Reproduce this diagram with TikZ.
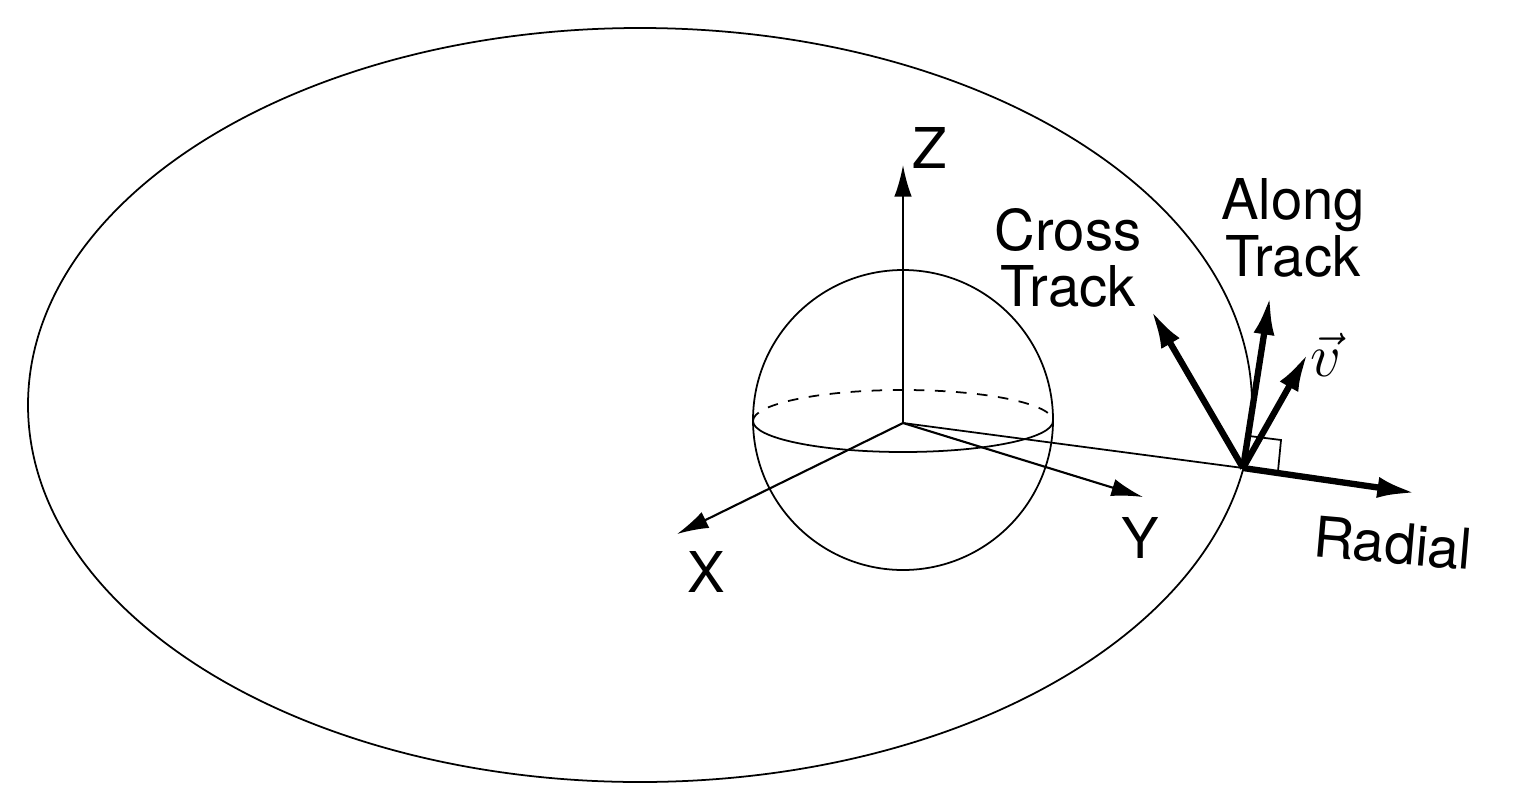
\documentclass[tikz,border=0pt]{standalone}
\usepackage{fontspec}
\setmainfont{TeX Gyre Heros}
\usetikzlibrary{arrows.meta}
\begin{document}
\begin{tikzpicture}[x=0.01cm,y=-0.01cm,
  thin/.style={line width=0.5pt},
  ax/.style={line width=0.6pt,-{Latex[length=9pt,width=5pt]}},
  th/.style={line width=1.8pt,-{Latex[length=11pt,width=6pt]}},
  lab/.style={font=\fontsize{16}{16}\selectfont,align=center}]
\useasboundingbox (0,0) rectangle (1513,809);
\draw[thin] (640,405) ellipse [x radius=612, y radius=377];
\draw[thin] (903,420) circle [radius=150];
\draw[thin,dashed] (753,421) arc[start angle=180,end angle=360,x radius=150,y radius=31];
\draw[thin] (753,421) arc[start angle=180,end angle=0,x radius=150,y radius=31];
\coordinate (O) at (903,423);
\coordinate (S) at (1243,468);
\coordinate (Zt) at (903,165);
\coordinate (Xt) at (677,534);
\coordinate (Yt) at (1143,497);
\coordinate (Rt) at (1416,493);
\coordinate (Ct) at (1151,310);
\coordinate (At) at (1270,296);
\coordinate (Vt) at (1308,353);
\draw[ax] (O) -- (Zt);
\draw[ax] (O) -- (Xt);
\draw[ax] (O) -- (Yt);
\draw[thin] (O) -- (S);
\draw[thin] (1249,436) -- (1281,440) -- (1278,471);
\draw[th] (S) -- (Rt);
\draw[th] (S) -- (Ct);
\draw[th] (S) -- (At);
\draw[th] (S) -- (Vt);
\node[lab] (zl) at (930,148) {Z};
\node[lab] (xl) at (706,572) {X};
\node[lab] (yl) at (1140,538) {Y};
\node[lab,rotate=-5] (rl) at (1393,543) {Radial};
\node[lab] (cl) at (1068,258) {Cross\\Track};
\node[lab] (al) at (1293,228) {Along\\Track};
\node[font=\fontsize{16}{18}\selectfont] (vl) at (1326,355) {$\vec{v}$};
\end{tikzpicture}
\end{document}
